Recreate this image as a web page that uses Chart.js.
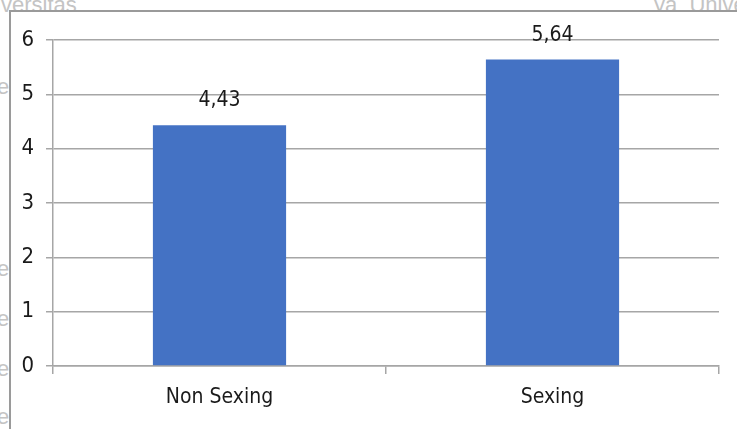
<!DOCTYPE html>
<html>
<head>
<meta charset="utf-8">
<script src="https://cdn.jsdelivr.net/npm/chart.js@4"></script>
<style>
  html, body { margin: 0; padding: 0; background: #ffffff; }
  #wrap { position: relative; width: 737px; height: 429px; overflow: hidden; }
  .wm { position: absolute; color: #c4c4c4; font-family: "Liberation Sans", Arial, sans-serif; font-size: 22px; white-space: nowrap; }
  #frame { position: absolute; left: 9px; top: 10px; width: 760px; height: 440px;
           background: #ffffff; border-left: 2px solid #9a9a9a; border-top: 2px solid #9a9a9a; }
  canvas { position: absolute; left: 0; top: 0; }
</style>
</head>
<body>
<div id="wrap">
  <div class="wm" style="left:-32px; top:-8px;">Universitas</div>
  <div class="wm" style="left:-14px; top:74px;">ve</div>
  <div class="wm" style="left:-14px; top:256px;">ve</div>
  <div class="wm" style="left:-14px; top:306px;">ve</div>
  <div class="wm" style="left:-14px; top:356px;">ve</div>
  <div class="wm" style="left:-14px; top:404px;">ve</div>
  <div class="wm" style="left:654px; top:-8px;">ya&nbsp;&nbsp;Universitas</div>
  <div id="frame"></div>
  <canvas id="chart" width="737" height="429"></canvas>
</div>
<script>
// kategori dan nilai
const categories = ['Non Sexing', 'Sexing'];
const values = [4.43, 5.64];
const yTicks = [0, 1, 2, 3, 4, 5, 6];

const FONT = '"Liberation Sans Narrow", "DejaVu Sans Condensed", sans-serif';
const GRID = '#a6a6a6';

// label nilai di atas batang, pakai koma desimal
const valueLabels = {
  id: 'valueLabels',
  afterDatasetsDraw(chart) {
    const ctx = chart.ctx;
    const meta = chart.getDatasetMeta(0);
    ctx.save();
    ctx.font = '21px ' + FONT;
    ctx.fillStyle = '#1a1a1a';
    ctx.textAlign = 'center';
    ctx.textBaseline = 'bottom';
    meta.data.forEach((bar, i) => {
      const txt = values[i].toFixed(2).replace('.', ',');
      ctx.fillText(txt, bar.x, bar.y - 14);
    });
    ctx.restore();
  }
};

new Chart(document.getElementById('chart'), {
  type: 'bar',
  data: {
    labels: categories,
    datasets: [{
      data: values,
      backgroundColor: '#4472c4',
      barPercentage: 0.4,
      categoryPercentage: 1.0
    }]
  },
  options: {
    responsive: false,
    animation: false,
    layout: { padding: { left: 0, top: 40, right: 18, bottom: 0 } },
    plugins: { legend: { display: false }, tooltip: { enabled: false } },
    scales: {
      x: {
        offset: true,
        grid: { offset: true, drawOnChartArea: false, drawTicks: true, tickLength: 8, color: GRID, lineWidth: 1.5 },
        border: { display: true, color: GRID, width: 1.5 },
        ticks: { font: { size: 21, family: FONT }, color: '#1a1a1a', padding: 11 },
        afterFit(scale) { scale.height = 63; }
      },
      y: {
        min: 0,
        max: 6,
        afterBuildTicks(scale) { scale.ticks = yTicks.map(v => ({ value: v })); },
        grid: { color: GRID, lineWidth: 1.5, tickLength: 7 },
        border: { display: true, color: GRID, width: 1.5 },
        ticks: { font: { size: 22, family: FONT }, color: '#1a1a1a', padding: 12 },
        afterFit(scale) { scale.width = 53; }
      }
    }
  },
  plugins: [valueLabels]
});
</script>
</body>
</html>
